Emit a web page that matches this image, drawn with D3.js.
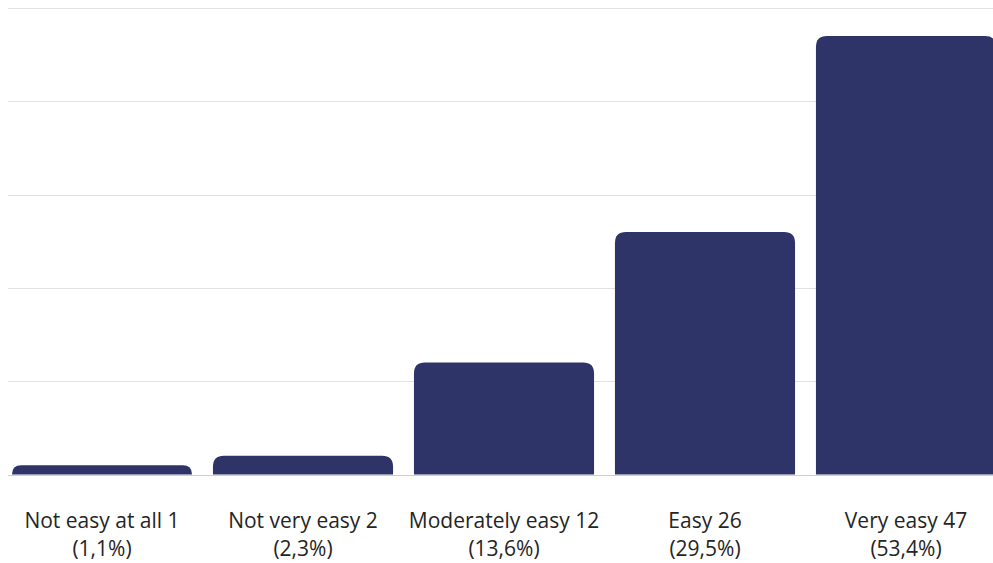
<!DOCTYPE html>
<html>
<head>
<meta charset="utf-8">
<script src="https://cdn.jsdelivr.net/npm/d3@7"></script>
<style>
  html, body { margin: 0; padding: 0; background: #fff; }
  svg { display: block; }
</style>
</head>
<body>
<svg id="chart" width="993" height="563"></svg>
<script>
// Survey answers: how easy was it?
const categories = ["Not easy at all", "Not very easy", "Moderately easy", "Easy", "Very easy"];
const counts = [1, 2, 12, 26, 47];
const shares = ["1,1%", "2,3%", "13,6%", "29,5%", "53,4%"];
const gridTicks = [0, 10, 20, 30, 40, 50];

const W = 993, H = 563;
const svg = d3.select("#chart");

const x = d3.scaleBand()
  .domain(categories)
  .range([1.5, 1006.5])
  .paddingInner(0.104)
  .paddingOuter(0.052);

const y = d3.scaleLinear()
  .domain([0, 50])
  .range([474.5, 8]);

// horizontal grid lines
svg.append("g")
  .selectAll("line")
  .data(gridTicks)
  .join("line")
  .attr("x1", 8)
  .attr("x2", W)
  .attr("y1", d => Math.round(y(d)) + 0.5)
  .attr("y2", d => Math.round(y(d)) + 0.5)
  .attr("stroke", d => d === 0 ? "#cfcfcf" : "#e2e2e2")
  .attr("stroke-width", 1);

// bars with rounded top corners
function barPath(x0, w, yTop, yBase, r) {
  r = Math.min(r, (yBase - yTop), w / 2);
  return `M${x0},${yBase}` +
    `V${yTop + r}` +
    `Q${x0},${yTop} ${x0 + r},${yTop}` +
    `H${x0 + w - r}` +
    `Q${x0 + w},${yTop} ${x0 + w},${yTop + r}` +
    `V${yBase}Z`;
}

svg.append("g")
  .selectAll("path")
  .data(counts)
  .join("path")
  .attr("d", (d, i) => barPath(x(categories[i]), x.bandwidth(), y(d), y(0), 11))
  .attr("fill", "#2f3468");

// two-line category labels
const labels = svg.append("g")
  .attr("font-family", "'Open Sans', sans-serif")
  .attr("font-size", 21)
  .attr("fill", "#252525")
  .attr("text-anchor", "middle");

categories.forEach((c, i) => {
  const cx = x(c) + x.bandwidth() / 2;
  const t = labels.append("text").attr("x", cx);
  t.append("tspan").attr("x", cx).attr("y", 528).text(`${c} ${counts[i]}`);
  t.append("tspan").attr("x", cx).attr("y", 556).text(`(${shares[i]})`);
});
</script>
</body>
</html>
